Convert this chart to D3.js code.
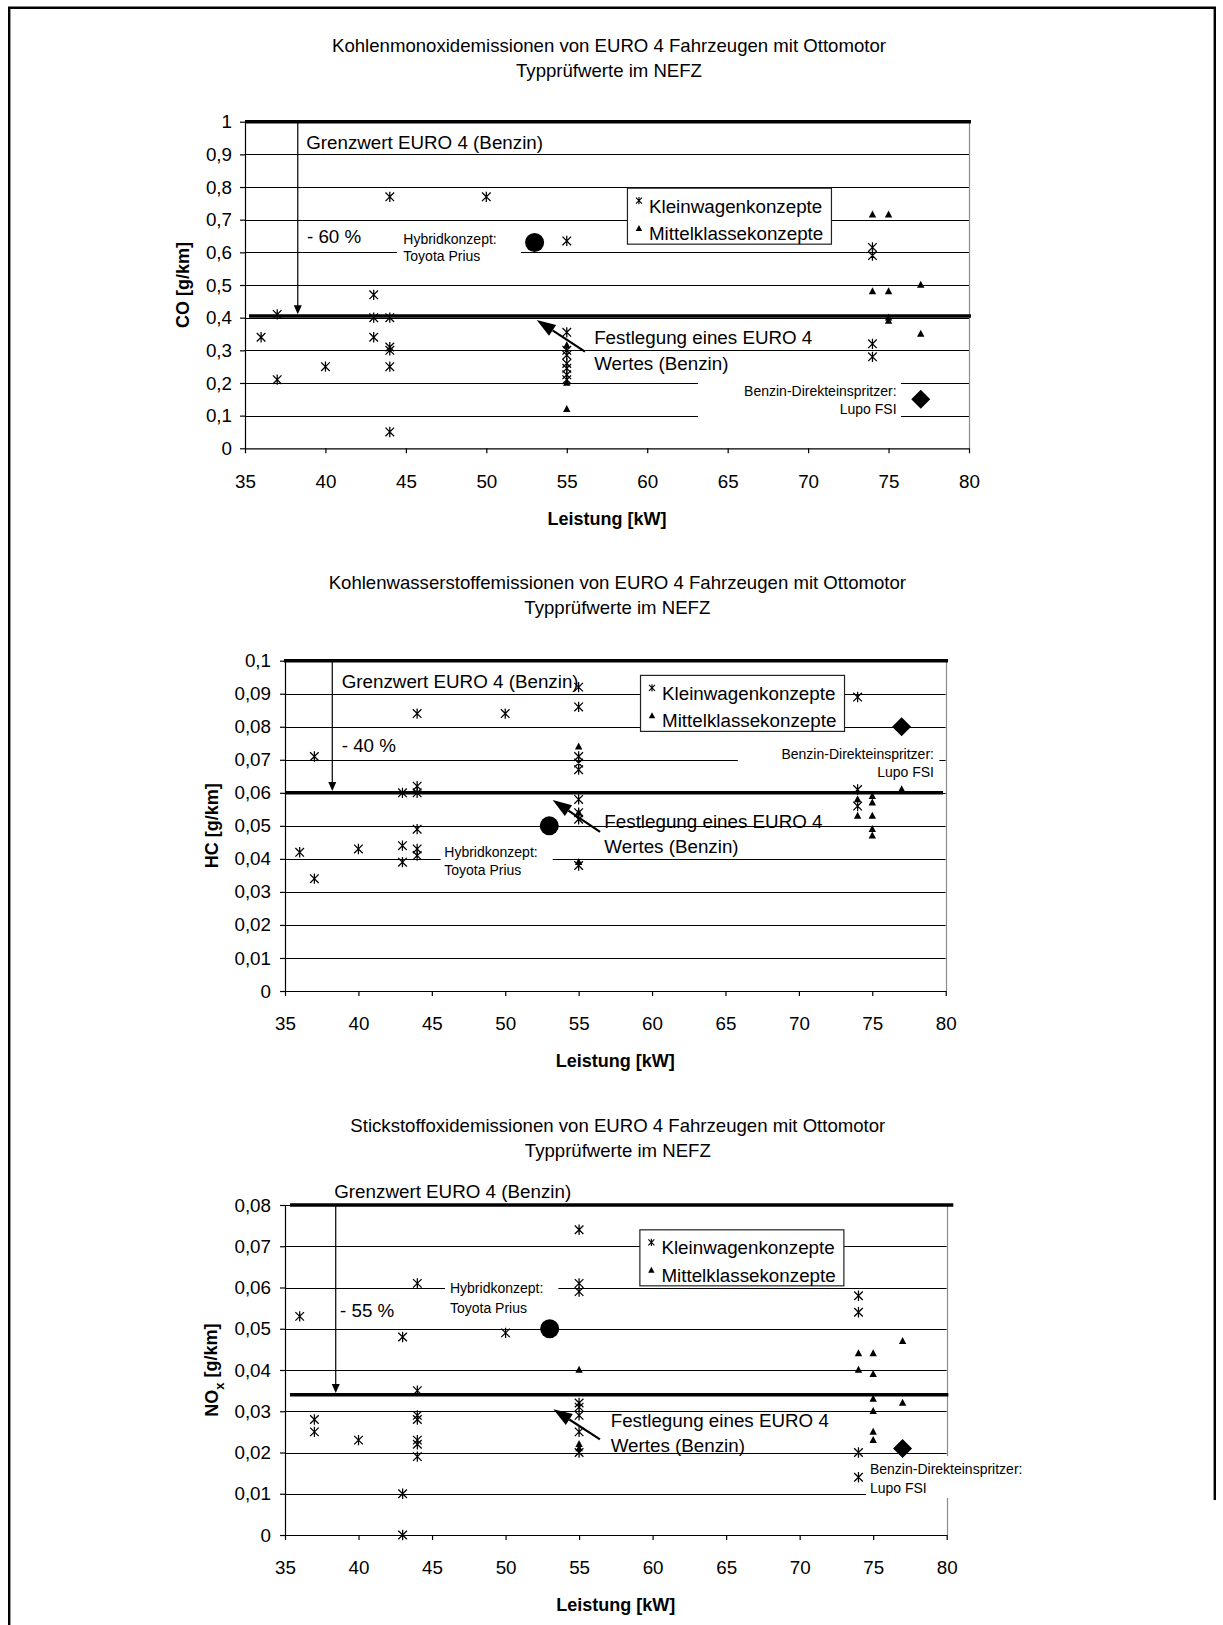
<!DOCTYPE html>
<html>
<head>
<meta charset="utf-8">
<script src="https://cdn.jsdelivr.net/npm/d3@7"></script>
<style>
  html, body { margin: 0; padding: 0; background: #fff; }
  svg { display: block; font-family: "Liberation Sans", Arial, Helvetica, sans-serif; color: #000; }
</style>
</head>
<body>
<svg id="fig" width="1223" height="1625"></svg>
<script>
// ---------- shared axis data ----------
const powerTicks = [35, 40, 45, 50, 55, 60, 65, 70, 75, 80];

// ---------- CO (g/km) ----------
const coTicks = [0, 0.1, 0.2, 0.3, 0.4, 0.5, 0.6, 0.7, 0.8, 0.9, 1];
const coSmallCars = [
  [36, 0.34], [37, 0.41], [37, 0.21], [40, 0.25], [43, 0.47], [43, 0.40], [43, 0.34],
  [44, 0.77], [44, 0.40], [44, 0.31], [44, 0.30], [44, 0.25], [44, 0.05], [50, 0.77],
  [55, 0.635], [55, 0.355], [55, 0.30], [55, 0.285], [55, 0.26], [55, 0.245], [55, 0.225], [55, 0.21],
  [74, 0.615], [74, 0.59], [74, 0.32], [74, 0.28]
];
const coMidCars = [
  [55, 0.315], [55, 0.20], [55, 0.12], [74, 0.715], [75, 0.715], [74, 0.48], [75, 0.48],
  [77, 0.50], [75, 0.40], [75, 0.39], [77, 0.35]
];
const coHybrid = [[53, 0.63]];
const coFsi = [[77, 0.15]];
const coLimit = 1.0;
const coTarget = 0.405;

// ---------- HC (g/km) ----------
const hcTicks = [0, 0.01, 0.02, 0.03, 0.04, 0.05, 0.06, 0.07, 0.08, 0.09, 0.1];
const hcSmallCars = [
  [36, 0.042], [37, 0.071], [37, 0.034], [40, 0.043], [43, 0.060], [43, 0.044], [43, 0.039],
  [44, 0.084], [44, 0.062], [44, 0.060], [44, 0.049], [44, 0.043], [44, 0.041], [50, 0.084],
  [55, 0.092], [55, 0.086], [55, 0.071], [55, 0.069], [55, 0.067], [55, 0.058], [55, 0.054],
  [55, 0.052], [55, 0.038], [74, 0.089], [74, 0.061], [74, 0.056]
];
const hcMidCars = [
  [55, 0.074], [55, 0.054], [55, 0.039], [74, 0.058], [74, 0.053], [75, 0.059], [75, 0.057],
  [75, 0.053], [75, 0.049], [75, 0.047], [77, 0.061]
];
const hcHybrid = [[53, 0.05]];
const hcFsi = [[77, 0.08]];
const hcLimit = 0.1;
const hcTarget = 0.06;

// ---------- NOx (g/km) ----------
const noxTicks = [0, 0.01, 0.02, 0.03, 0.04, 0.05, 0.06, 0.07, 0.08];
const noxSmallCars = [
  [36, 0.053], [37, 0.028], [37, 0.025], [40, 0.023], [43, 0.048], [43, 0.010], [43, 0.000],
  [44, 0.061], [44, 0.035], [44, 0.029], [44, 0.028], [44, 0.023], [44, 0.022], [44, 0.019],
  [50, 0.049], [55, 0.074], [55, 0.061], [55, 0.059], [55, 0.032], [55, 0.031], [55, 0.029],
  [55, 0.025], [55, 0.020], [74, 0.058], [74, 0.054], [74, 0.020], [74, 0.014]
];
const noxMidCars = [
  [55, 0.040], [55, 0.022], [55, 0.021], [74, 0.044], [74, 0.040], [75, 0.044], [75, 0.039],
  [75, 0.033], [75, 0.030], [75, 0.025], [75, 0.023], [77, 0.047], [77, 0.032]
];
const noxHybrid = [[53, 0.05]];
const noxFsi = [[77, 0.021]];
const noxLimit = 0.08;
const noxTarget = 0.034;

// ---------- text ----------
const legendLabels = ["Kleinwagenkonzepte", "Mittelklassekonzepte"];
const limitLabel = "Grenzwert EURO 4 (Benzin)";
const targetLabel = ["Festlegung eines EURO 4", "Wertes (Benzin)"];
const hybridLabel = ["Hybridkonzept:", "Toyota Prius"];
const fsiLabel = ["Benzin-Direkteinspritzer:", "Lupo FSI"];
const xTitle = "Leistung [kW]";
const subtitle = "Typprüfwerte im NEFZ";

const FONT = '"Liberation Sans", Arial, Helvetica, sans-serif';
const FS = 18.8;
const FS_TITLE = 18.6;
const FS_SMALL = 14;

const svg = d3.select("#fig");

// page frame
svg.append("path")
  .attr("d", "M9.2,1625V7.8H1214.8V1500")
  .attr("fill", "none").attr("stroke", "#000").attr("stroke-width", 2.4);

const fmtTick = d => String(+d.toFixed(3)).replace(".", ",");

function asterisk(s) {
  return `M${-s},${-s}L${s},${s}M${-s},${s}L${s},${-s}M0,${-s * 1.2}L0,${s * 1.2}`;
}
function triangle(w, h) {
  return `M0,${-h * 0.6}L${w},${h * 0.4}L${-w},${h * 0.4}Z`;
}

function drawChart(c) {
  const x = d3.scaleLinear().domain([35, 80]).range([c.left, c.right]);
  const y = d3.scaleLinear().domain([0, c.ymax]).range([c.bottom, c.top]);
  const g = svg.append("g");

  // titles
  const cx = (c.left + c.right) / 2 + 2;
  c.title.forEach((t, i) => {
    g.append("text").attr("x", cx).attr("y", c.titleY[i]).attr("dy", "0.35em")
      .attr("text-anchor", "middle").attr("font-size", FS_TITLE).text(t);
  });

  // horizontal gridlines
  g.append("g").selectAll("line").data(c.yTicks.filter(t => t > 0)).join("line")
    .attr("x1", c.left).attr("x2", c.right)
    .attr("y1", d => Math.round(y(d)) + 0.5).attr("y2", d => Math.round(y(d)) + 0.5)
    .attr("stroke", "#000").attr("stroke-width", 1);

  // right edge of plot area
  g.append("line")
    .attr("x1", Math.round(c.right) + 0.5).attr("x2", Math.round(c.right) + 0.5)
    .attr("y1", c.top).attr("y2", c.bottom)
    .attr("stroke", "#8c8c8c").attr("stroke-width", 1.2);

  // white label boxes
  c.boxes.forEach(b => {
    g.append("rect")
      .attr("x", x(b.x0)).attr("width", x(b.x1) - x(b.x0))
      .attr("y", y(b.y1)).attr("height", y(b.y0) - y(b.y1))
      .attr("fill", "#fff");
  });

  // axes
  const ya = g.append("g").attr("transform", `translate(${c.left},0)`)
    .call(d3.axisLeft(y).tickValues(c.yTicks).tickSize(5).tickSizeOuter(0)
      .tickPadding(c.yPad).tickFormat(fmtTick));
  const xa = g.append("g").attr("transform", `translate(0,${c.bottom})`)
    .call(d3.axisBottom(x).tickValues(powerTicks).tickSize(5).tickSizeOuter(0)
      .tickPadding(21).tickFormat(d => d));
  [ya, xa].forEach(a => {
    a.attr("font-size", FS).attr("font-family", FONT);
    a.selectAll("path, line").attr("stroke", "#000").attr("stroke-width", 1.2);
  });

  // axis titles
  g.append("text").attr("x", (c.left + c.right) / 2).attr("y", c.bottom + 70).attr("dy", "0.35em")
    .attr("text-anchor", "middle").attr("font-size", 18).attr("font-weight", "bold").text(xTitle);
  const yt = g.append("text")
    .attr("transform", `translate(${c.yTitleX},${(c.top + c.bottom) / 2}) rotate(-90)`)
    .attr("dy", "0.35em").attr("text-anchor", "middle")
    .attr("font-size", 18).attr("font-weight", "bold");
  yt.append("tspan").text(c.yTitle[0]);
  if (c.yTitle.length > 2) {
    yt.append("tspan").attr("font-size", 13).attr("dy", "0.45em").text(c.yTitle[1]);
    yt.append("tspan").attr("dy", "-0.35em").text(c.yTitle[2]);
  } else {
    yt.append("tspan").text(c.yTitle[1]);
  }

  // EURO 4 limit and target level
  const thick = (v, x0, x1) => g.append("line")
    .attr("x1", x(x0)).attr("x2", x(x1)).attr("y1", y(v)).attr("y2", y(v))
    .attr("stroke", "#000").attr("stroke-width", 3.6);
  thick(c.limit, c.limitX[0], c.limitX[1]);
  thick(c.target, c.targetX[0], c.targetX[1]);

  // reduction arrow
  const ax = x(c.arrowX), ay0 = y(c.limit), ay1 = y(c.target) - 1.8;
  g.append("line").attr("x1", ax).attr("x2", ax).attr("y1", ay0).attr("y2", ay1 - 7)
    .attr("stroke", "#000").attr("stroke-width", 1.2);
  g.append("path").attr("d", `M${ax},${ay1}L${ax - 4},${ay1 - 9}L${ax + 4},${ay1 - 9}Z`).attr("fill", "#000");

  // annotation texts
  const txt = (t, px, py, size, anchor) => g.append("text")
    .attr("x", px).attr("y", py).attr("dy", "0.35em").attr("font-size", size)
    .attr("text-anchor", anchor || "start").text(t);
  txt(limitLabel, x(c.limitText[0]), y(c.limitText[1]), FS);
  txt(c.pct, x(c.pctText[0]), y(c.pctText[1]), FS);
  txt(targetLabel[0], x(c.targetText[0]), y(c.targetText[1]), FS);
  txt(targetLabel[1], x(c.targetText[0]), y(c.targetText[2]), FS);
  txt(hybridLabel[0], x(c.hybridText[0]), y(c.hybridText[1]), FS_SMALL);
  txt(hybridLabel[1], x(c.hybridText[0]), y(c.hybridText[2]), FS_SMALL);
  txt(fsiLabel[0], x(c.fsiText[0]), y(c.fsiText[1]), FS_SMALL, c.fsiAnchor);
  txt(fsiLabel[1], x(c.fsiText[0]), y(c.fsiText[2]), FS_SMALL, c.fsiAnchor);

  // pointer to the target level
  const tx0 = x(c.pointer[0]), ty0 = y(c.pointer[1]), tx1 = x(c.pointer[2]), ty1 = y(c.pointer[3]);
  const ang = Math.atan2(ty1 - ty0, tx1 - tx0);
  const hl = 19, hw = 6.5;
  const bx = tx1 - hl * Math.cos(ang), by = ty1 - hl * Math.sin(ang);
  g.append("line").attr("x1", tx0).attr("y1", ty0).attr("x2", bx).attr("y2", by)
    .attr("stroke", "#000").attr("stroke-width", 2.2);
  g.append("path")
    .attr("d", `M${tx1},${ty1}L${bx + hw * Math.sin(ang)},${by - hw * Math.cos(ang)}L${bx - hw * Math.sin(ang)},${by + hw * Math.cos(ang)}Z`)
    .attr("fill", "#000");

  // data points
  g.append("g").selectAll("path").data(c.small).join("path")
    .attr("transform", d => `translate(${x(d[0])},${y(d[1])})`)
    .attr("d", asterisk(4.3)).attr("fill", "none").attr("stroke", "#000").attr("stroke-width", 1.25);
  g.append("g").selectAll("path").data(c.mid).join("path")
    .attr("transform", d => `translate(${x(d[0])},${y(d[1])})`)
    .attr("d", triangle(3.7, 7)).attr("fill", "#000");
  g.append("g").selectAll("circle").data(c.hybrid).join("circle")
    .attr("cx", d => x(d[0])).attr("cy", d => y(d[1])).attr("r", 9.5).attr("fill", "#000");
  g.append("g").selectAll("path").data(c.fsi).join("path")
    .attr("transform", d => `translate(${x(d[0])},${y(d[1])})`)
    .attr("d", "M0,-9.5L9.5,0L0,9.5L-9.5,0Z").attr("fill", "#000");

  // legend
  const lx = x(c.legend[0]), ly = y(c.legend[1]);
  const lg = g.append("g").attr("transform", `translate(${lx},${ly})`);
  lg.append("rect").attr("x", 0.5).attr("y", 0.5).attr("width", 204).attr("height", 56)
    .attr("fill", "#fff").attr("stroke", "#222").attr("stroke-width", 1.2);
  legendLabels.forEach((t, i) => {
    lg.append("text").attr("x", 22).attr("y", 18.5 + i * 27.5).attr("dy", "0.35em")
      .attr("font-size", FS).text(t);
  });
  lg.append("path").attr("transform", "translate(12,13)").attr("d", asterisk(3))
    .attr("fill", "none").attr("stroke", "#000").attr("stroke-width", 1.1);
  lg.append("path").attr("transform", "translate(12,41)").attr("d", triangle(3.2, 6))
    .attr("fill", "#000");
}

drawChart({
  title: ["Kohlenmonoxidemissionen von EURO 4 Fahrzeugen mit Ottomotor", subtitle],
  titleY: [45.6, 70.5],
  left: 245, right: 969, top: 121.7, bottom: 448.3, ymax: 1,
  yTicks: coTicks, yPad: 8, yTitle: ["CO ", "[g/km]"], yTitleX: 182.5,
  small: coSmallCars, mid: coMidCars, hybrid: coHybrid, fsi: coFsi,
  limit: coLimit, target: coTarget, limitX: [35, 80.12], targetX: [35.25, 80.12],
  arrowX: 38.28, pct: "- 60 %",
  limitText: [38.8, 0.936], pctText: [38.85, 0.648],
  targetText: [56.7, 0.338, 0.261],
  pointer: [56.13, 0.296, 53.13, 0.393],
  hybridText: [44.84, 0.640, 0.587],
  fsiText: [75.5, 0.176, 0.119], fsiAnchor: "end",
  boxes: [
    { x0: 44.44, x1: 52.15, y0: 0.558, y1: 0.668 },
    { x0: 63.16, x1: 75.77, y0: 0.081, y1: 0.224 }
  ],
  legend: [58.74, 0.798]
});

drawChart({
  title: ["Kohlenwasserstoffemissionen von EURO 4 Fahrzeugen mit Ottomotor", subtitle],
  titleY: [582.5, 607.3],
  left: 285, right: 945.7, top: 660.7, bottom: 991, ymax: 0.1,
  yTicks: hcTicks, yPad: 9, yTitle: ["HC ", "[g/km]"], yTitleX: 211.4,
  small: hcSmallCars, mid: hcMidCars, hybrid: hcHybrid, fsi: hcFsi,
  limit: hcLimit, target: hcTarget, limitX: [34.93, 80.16], targetX: [35, 79.82],
  arrowX: 38.22, pct: "- 40 %",
  limitText: [38.86, 0.0937], pctText: [38.86, 0.0742],
  targetText: [56.75, 0.0513, 0.0437],
  pointer: [56.46, 0.0482, 53.23, 0.0578],
  hybridText: [45.85, 0.0422, 0.0366],
  fsiText: [79.2, 0.0718, 0.0664], fsiAnchor: "end",
  boxes: [
    { x0: 45.6, x1: 53.23, y0: 0.0339, y1: 0.0451 },
    { x0: 65.84, x1: 79.57, y0: 0.0636, y1: 0.0751 }
  ],
  legend: [59.18, 0.0957]
});

drawChart({
  title: ["Stickstoffoxidemissionen von EURO 4 Fahrzeugen mit Ottomotor", subtitle],
  titleY: [1125.5, 1150.4],
  left: 285, right: 946.7, top: 1205, bottom: 1535, ymax: 0.08,
  yTicks: noxTicks, yPad: 9, yTitle: ["NO", "x", " [g/km]"], yTitleX: 211.4,
  small: noxSmallCars, mid: noxMidCars, hybrid: noxHybrid, fsi: noxFsi,
  limit: noxLimit, target: noxTarget, limitX: [35.34, 80.45], targetX: [35.34, 80.11],
  arrowX: 38.45, pct: "- 55 %",
  limitText: [38.35, 0.0832], pctText: [38.74, 0.0545],
  targetText: [57.15, 0.0277, 0.0218],
  pointer: [56.42, 0.0232, 53.25, 0.0305],
  hybridText: [46.22, 0.0598, 0.0551],
  fsiText: [74.78, 0.0159, 0.0113], fsiAnchor: "start",
  boxes: [
    { x0: 45.88, x1: 53.59, y0: 0.0526, y1: 0.0642 },
    { x0: 74.51, x1: 85.33, y0: 0.00897, y1: 0.01915 }
  ],
  legend: [59.1, 0.0741]
});
</script>
</body>
</html>
